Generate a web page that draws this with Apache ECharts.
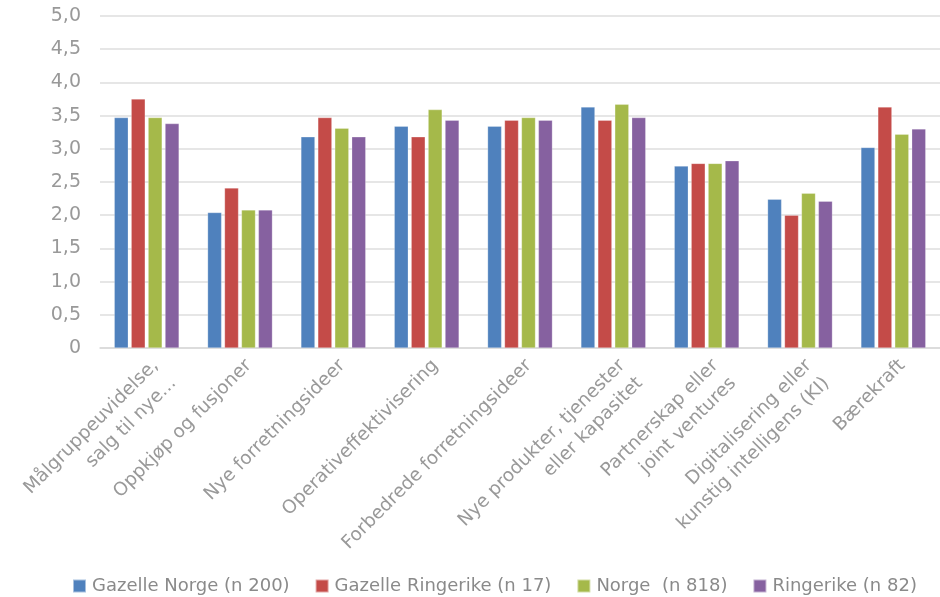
<!DOCTYPE html>
<html><head><meta charset="utf-8">
<script src="https://cdn.jsdelivr.net/npm/echarts@6/dist/echarts.min.js"></script>
<style>html,body{margin:0;padding:0;background:#fff}#c{width:940px;height:597px}</style>
</head><body><div id="c"></div>
<script>
const categories = [
  "Målgruppeuvidelse,\nsalg til nye...",
  "Oppkjøp og fusjoner",
  "Nye forretningsideer",
  "Operativeffektivisering",
  "Forbedrede forretningsideer",
  "Nye produkter, tjenester\neller kapasitet",
  "Partnerskap eller\njoint ventures",
  "Digitalisering eller\nkunstig intelligens (KI)",
  "Bærekraft"
];
const seriesNames = ["Gazelle Norge (n 200)", "Gazelle Ringerike (n 17)", "Norge  (n 818)", "Ringerike (n 82)"];
const gazelleNorge     = [3.47, 2.04, 3.18, 3.34, 3.34, 3.63, 2.74, 2.24, 3.02];
const gazelleRingerike = [3.75, 2.41, 3.47, 3.18, 3.43, 3.43, 2.78, 2.00, 3.63];
const norge            = [3.47, 2.08, 3.31, 3.59, 3.47, 3.67, 2.78, 2.33, 3.22];
const ringerike        = [3.38, 2.08, 3.18, 3.43, 3.43, 3.47, 2.82, 2.21, 3.30];
const colors = ["#4F81BD", "#C44B48", "#A5B94A", "#8661A0"];
const values = [gazelleNorge, gazelleRingerike, norge, ringerike];

const font = "DejaVu Sans";
const chart = echarts.init(document.getElementById('c'));
chart.setOption({
  animation: false,
  textStyle: { fontFamily: font },
  grid: { left: 100, right: 0, top: 16, bottom: 249 },
  legend: {
    left: 67, top: 572,
    itemWidth: 13, itemHeight: 13, itemGap: 25,
    icon: 'rect',
    textStyle: { color: '#8a8a8a', fontSize: 18, fontFamily: font, padding: [0,0,0,1] },
    data: seriesNames
  },
  xAxis: {
    type: 'category', data: categories,
    axisLine: { lineStyle: { color: '#d9d9d9', width: 1.5 } },
    axisTick: { show: false },
    axisLabel: { rotate: 45, color: '#999', fontSize: 18.5, margin: 6, lineHeight: 25,
      verticalAlign: 'top', interval: 0 }
  },
  yAxis: {
    type: 'value', min: 0, max: 5, interval: 0.5,
    axisLine: { show: false }, axisTick: { show: false },
    splitLine: { lineStyle: { color: '#dedede', width: 1.5 } },
    axisLabel: { color: '#999', fontSize: 19, margin: 19,
      formatter: v => v === 0 ? '0' : v.toFixed(1).replace('.', ',') }
  },
  series: values.map((d, i) => ({
    name: seriesNames[i], type: 'bar', data: d,
    barWidth: 14, barGap: '21%',
    itemStyle: { color: colors[i], borderColor: 'rgba(255,255,255,0.5)', borderWidth: 0.5 }
  }))
});
</script></body></html>
